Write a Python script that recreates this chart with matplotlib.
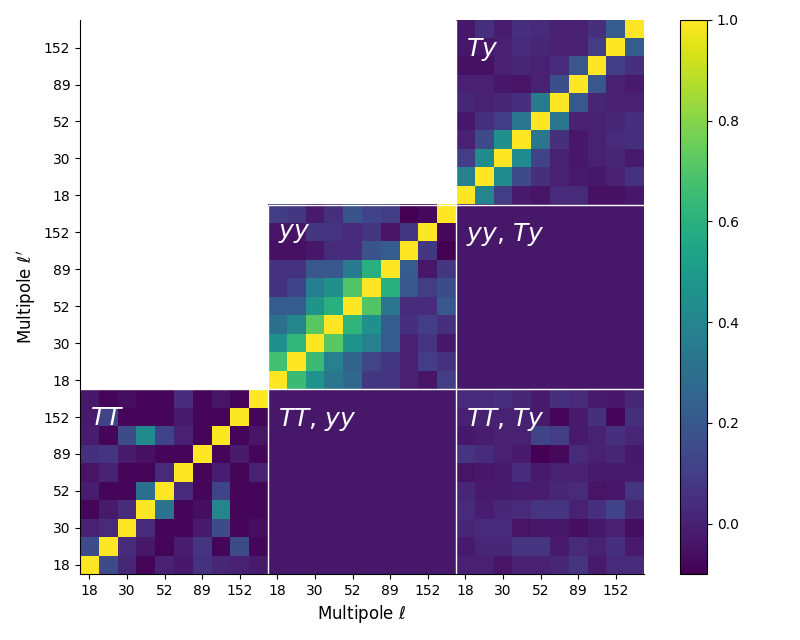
import numpy as np
import matplotlib
matplotlib.use("Agg")
import matplotlib.pyplot as plt

# multipole bin labels (shown on every second bin)
tick_labels = ["18", "30", "52", "89", "152"]
block_names = ["$TT$", "$yy$", "$Ty$"]

# correlation blocks, row 0 = lowest multipole
TT = [
    [1.00, 0.15, 0.02, -0.08, 0.00, -0.03, 0.06, 0.02, 0.00, -0.02],
    [0.15, 1.00, 0.04, -0.03, -0.08, -0.01, 0.07, -0.08, 0.15, -0.08],
    [0.00, 0.03, 1.00, 0.03, -0.08, -0.08, -0.02, 0.15, -0.08, -0.06],
    [-0.08, -0.02, 0.04, 1.00, 0.32, -0.08, -0.06, 0.40, -0.08, -0.08],
    [-0.01, -0.08, -0.08, 0.30, 1.00, 0.03, -0.08, 0.12, -0.08, -0.08],
    [-0.04, 0.00, -0.08, -0.08, 0.03, 1.00, -0.08, -0.01, -0.08, 0.00],
    [0.05, 0.07, -0.02, -0.05, -0.08, -0.08, 1.00, -0.08, -0.02, -0.08],
    [-0.01, -0.08, 0.15, 0.42, 0.12, 0.00, -0.08, 1.00, -0.08, -0.04],
    [-0.02, 0.12, -0.08, -0.08, -0.08, -0.02, -0.08, -0.08, 1.00, -0.08],
    [-0.03, -0.08, -0.06, -0.08, -0.08, 0.04, -0.08, -0.04, -0.08, 1.00],
]
yy = [
    [1.00, 0.65, 0.46, 0.33, 0.27, 0.08, 0.07, 0.00, -0.04, 0.10],
    [0.67, 1.00, 0.65, 0.38, 0.25, 0.13, 0.08, 0.00, 0.10, 0.06],
    [0.45, 0.63, 1.00, 0.72, 0.47, 0.38, 0.22, 0.00, 0.07, -0.03],
    [0.30, 0.40, 0.72, 1.00, 0.62, 0.45, 0.22, 0.05, 0.10, 0.05],
    [0.22, 0.22, 0.47, 0.60, 1.00, 0.70, 0.33, 0.04, 0.04, 0.20],
    [0.06, 0.12, 0.37, 0.45, 0.70, 1.00, 0.60, 0.20, 0.10, 0.15],
    [0.06, 0.06, 0.20, 0.20, 0.35, 0.60, 1.00, 0.22, -0.03, 0.08],
    [-0.05, -0.05, -0.03, 0.04, 0.04, 0.18, 0.22, 1.00, 0.08, -0.10],
    [-0.04, -0.04, 0.08, 0.07, 0.03, 0.08, -0.04, 0.08, 1.00, -0.07],
    [0.10, 0.08, -0.02, 0.05, 0.18, 0.12, 0.10, -0.10, -0.07, 1.00],
]
Ty = [
    [1.00, 0.40, 0.10, -0.02, -0.04, 0.03, 0.03, -0.05, -0.05, -0.03],
    [0.38, 1.00, 0.43, 0.15, 0.05, 0.00, -0.02, -0.03, 0.00, 0.06],
    [0.10, 0.43, 1.00, 0.43, 0.12, 0.00, -0.03, 0.00, 0.02, -0.02],
    [0.00, 0.15, 0.45, 1.00, 0.33, 0.05, -0.03, 0.00, 0.03, 0.05],
    [-0.03, 0.05, 0.10, 0.33, 1.00, 0.33, 0.00, 0.00, 0.02, 0.05],
    [0.02, 0.00, 0.02, 0.05, 0.35, 1.00, 0.20, 0.02, 0.00, 0.00],
    [0.00, 0.00, -0.03, -0.04, 0.00, 0.17, 1.00, 0.20, 0.00, -0.02],
    [-0.05, -0.05, 0.00, 0.02, 0.00, 0.03, 0.20, 1.00, 0.10, 0.05],
    [-0.03, -0.03, 0.00, 0.03, 0.02, 0.00, 0.00, 0.10, 1.00, 0.22],
    [-0.03, 0.05, -0.01, 0.05, 0.03, 0.00, 0.00, 0.05, 0.22, 1.00],
]
TT_Ty = [
    [0.00, 0.00, -0.04, 0.00, 0.00, 0.02, 0.07, -0.02, 0.03, 0.03],
    [-0.02, 0.02, 0.02, 0.07, 0.07, -0.02, 0.03, 0.00, 0.05, -0.02],
    [0.02, 0.03, 0.03, -0.04, -0.03, -0.03, -0.06, -0.03, 0.00, -0.06],
    [0.03, -0.01, 0.02, 0.03, 0.07, 0.07, 0.00, 0.05, 0.12, 0.02],
    [0.02, -0.02, -0.02, -0.01, -0.01, 0.02, 0.03, -0.04, -0.03, 0.07],
    [-0.04, -0.03, -0.02, 0.04, -0.02, 0.00, 0.00, -0.02, -0.02, -0.02],
    [0.07, 0.04, 0.00, -0.02, -0.10, -0.07, 0.03, 0.00, 0.02, -0.03],
    [-0.03, -0.01, 0.00, 0.00, 0.12, 0.10, -0.02, 0.00, 0.05, 0.02],
    [0.00, 0.00, 0.00, 0.00, -0.02, -0.08, -0.02, 0.05, -0.08, 0.05],
    [0.03, 0.03, 0.05, 0.02, -0.02, 0.05, 0.03, -0.02, -0.03, 0.02],
]
TT_yy_value = -0.03
yy_Ty_value = -0.03

n = 10
M = np.full((3 * n, 3 * n), np.nan)
M[0:n, 0:n] = TT
M[0:n, n:2 * n] = TT_yy_value
M[0:n, 2 * n:3 * n] = TT_Ty
M[n:2 * n, n:2 * n] = yy
M[n:2 * n, 2 * n:3 * n] = yy_Ty_value
M[2 * n:3 * n, 2 * n:3 * n] = Ty

fig = plt.figure(figsize=(8, 6.4), dpi=100)
ax = fig.add_axes([0.1, 0.103, 0.705, 0.866])
cax = fig.add_axes([0.85, 0.103, 0.034, 0.866])

cmap = plt.get_cmap("viridis").copy()
cmap.set_bad("white")
im = ax.imshow(np.ma.masked_invalid(M), origin="lower", cmap=cmap, vmin=-0.1, vmax=1.0,
               aspect="auto", interpolation="nearest")

lw = 1.0
ax.vlines(n - 0.5, -0.5, 2 * n - 0.5, color="white", lw=lw)
ax.vlines(2 * n - 0.5, -0.5, 3 * n - 0.5, color="white", lw=lw)
ax.hlines(n - 0.5, -0.5, 3 * n - 0.5, color="white", lw=lw)
ax.hlines(2 * n - 0.5, n - 0.5, 3 * n - 0.5, color="white", lw=lw)

# block labels
labels = {(0, 0): block_names[0], (1, 1): block_names[1], (2, 2): block_names[2],
          (0, 1): block_names[0] + ", " + block_names[1],
          (0, 2): block_names[0] + ", " + block_names[2],
          (1, 2): block_names[1] + ", " + block_names[2]}
for (br, bc), txt in labels.items():
    ax.text(bc * n - 0.5 + 0.55, (br + 1) * n - 0.5 - 0.9, txt, color="white",
            fontsize=18, ha="left", va="top")

ticks = [b * n + k for b in range(3) for k in range(0, n, 2)]
ax.set_xticks(ticks)
ax.set_xticklabels(tick_labels * 3)
ax.set_yticks(ticks)
ax.set_yticklabels(tick_labels * 3)
ax.set_xlim(-0.5, 3 * n - 0.5)
ax.set_ylim(-0.5, 3 * n - 0.5)
ax.spines["top"].set_visible(False)
ax.spines["right"].set_visible(False)
ax.set_xlabel(r"Multipole $\ell$", fontsize=12)
ax.set_ylabel(r"Multipole $\ell'$", fontsize=12)

cb = fig.colorbar(im, cax=cax, ticks=[0.0, 0.2, 0.4, 0.6, 0.8, 1.0])
cb.ax.set_yticklabels(["0.0", "0.2", "0.4", "0.6", "0.8", "1.0"])

fig.savefig("out.png", dpi=100)
